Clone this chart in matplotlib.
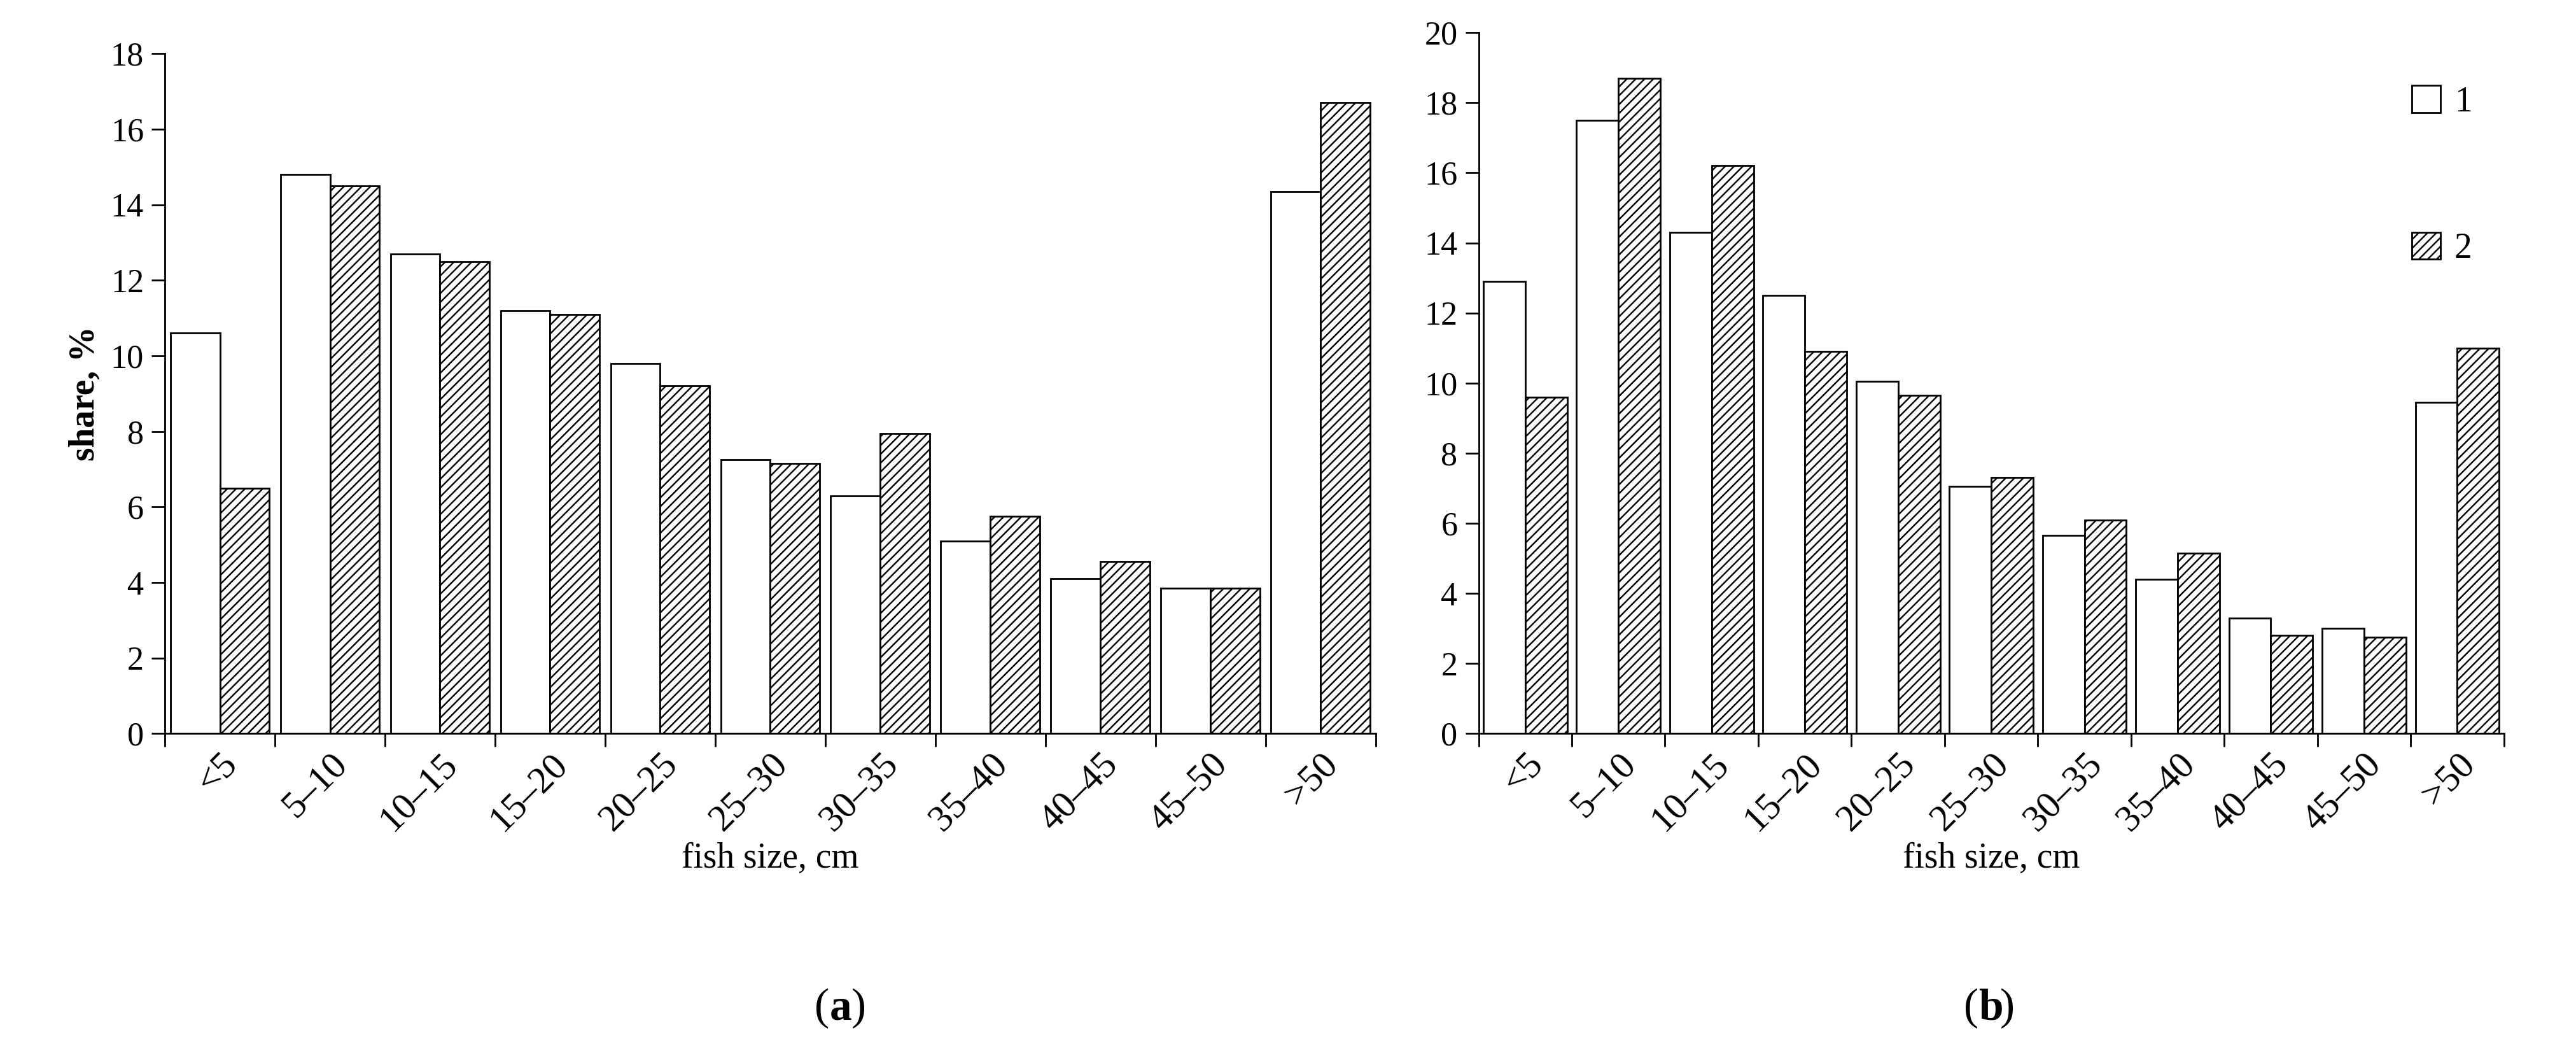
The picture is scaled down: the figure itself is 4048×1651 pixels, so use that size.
import numpy as np
import matplotlib.pyplot as plt

plt.rcParams['font.family'] = ['Liberation Serif', 'DejaVu Serif']
plt.rcParams['hatch.linewidth'] = 0.7

categories = ['<5', '5–10', '10–15', '15–20', '20–25', '25–30', '30–35',
              '35–40', '40–45', '45–50', '>50']
a_series1 = [10.6, 14.8, 12.7, 11.2, 9.8, 7.25, 6.3, 5.1, 4.1, 3.85, 14.35]
a_series2 = [6.5, 14.5, 12.5, 11.1, 9.2, 7.15, 7.95, 5.75, 4.55, 3.85, 16.7]
b_series1 = [12.9, 17.5, 14.3, 12.5, 10.05, 7.05, 5.65, 4.4, 3.3, 3.0, 9.45]
b_series2 = [9.6, 18.7, 16.2, 10.9, 9.65, 7.3, 6.1, 5.15, 2.8, 2.75, 11.0]

fig = plt.figure(figsize=(16.192, 6.604), dpi=250)
ax1 = fig.add_axes([0.064, 0.302, 0.47, 0.647])
ax2 = fig.add_axes([0.574, 0.302, 0.398, 0.667])

def draw(ax, s1, s2, ymax, ylabel):
    x = np.arange(len(categories))
    w = 0.45
    ax.bar(x - w / 2, s1, w, color='white', edgecolor='black', linewidth=0.8, label='1')
    ax.bar(x + w / 2, s2, w, color='white', edgecolor='black', linewidth=0.8,
           hatch='//////', label='2')
    ax.set_xlim(-0.5, len(categories) - 0.5)
    ax.set_ylim(0, ymax)
    ax.set_yticks(np.arange(0, ymax + 1, 2))
    ax.set_xticks(np.arange(-0.5, len(categories), 1))
    ax.set_xticklabels([])
    ax.set_xticks(x, minor=True)
    ax.set_xticklabels(categories, minor=True, rotation=45, ha='right', fontsize=17,
                       rotation_mode='anchor')
    ax.tick_params(axis='x', which='minor', length=0, pad=6)
    ax.tick_params(axis='x', which='major', length=6, direction='out')
    ax.tick_params(axis='y', direction='out', length=6, labelsize=15)
    for sp in ['top', 'right']:
        ax.spines[sp].set_visible(False)
    ax.set_xlabel('fish size, cm', fontsize=16, labelpad=2)
    if ylabel:
        ax.set_ylabel('share, %', fontsize=16, fontweight='bold')

draw(ax1, a_series1, a_series2, 18, True)
draw(ax2, b_series1, b_series2, 20, False)

ax2.legend(loc='upper right', bbox_to_anchor=(1.0, 0.97), frameon=False,
           fontsize=16, handlelength=0.8, handleheight=0.8,
           labelspacing=3.2, handletextpad=0.4)

for xc, letter in [(0.322, 'a'), (0.768, 'b')]:
    fig.text(xc, 0.03, '(', fontsize=20, ha='right')
    fig.text(xc, 0.03, letter, fontsize=20, fontweight='bold', ha='left')
    fig.text(xc + 0.0085, 0.03, ')', fontsize=20, ha='left')

fig.savefig('out.png', dpi=250)
